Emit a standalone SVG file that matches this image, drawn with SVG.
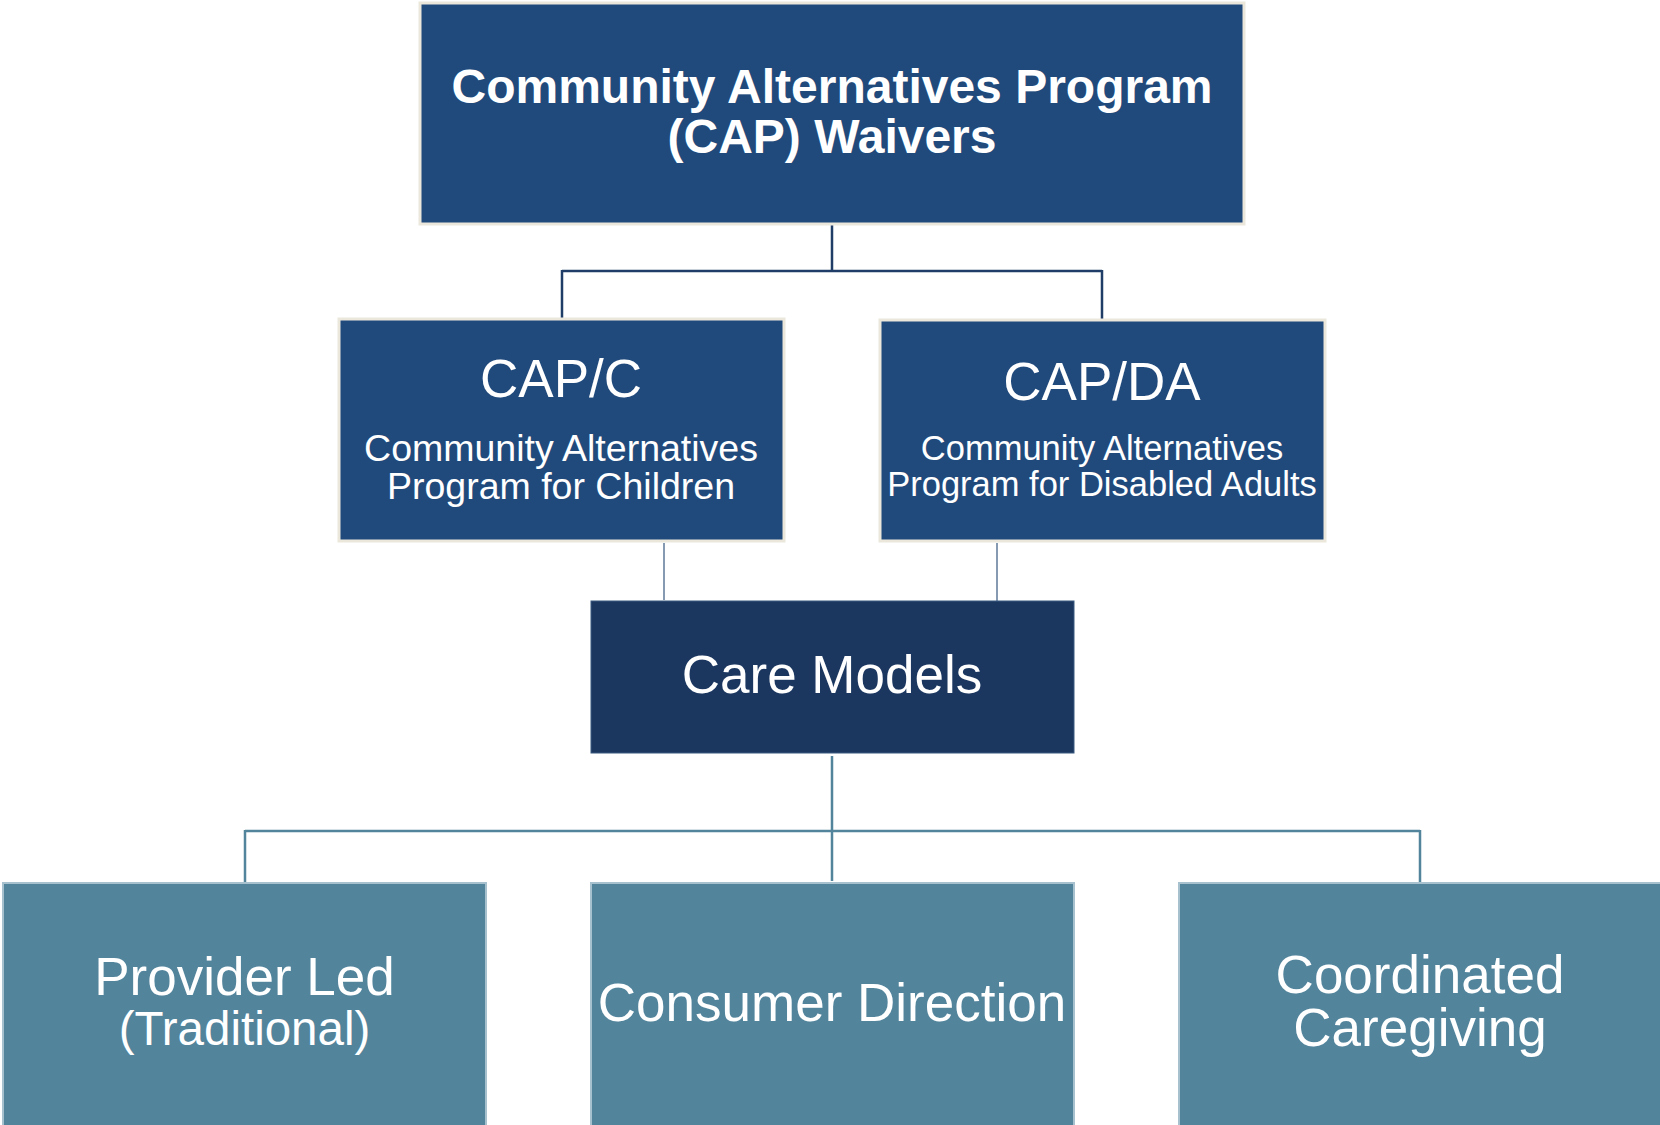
<svg xmlns="http://www.w3.org/2000/svg" width="1660" height="1125" viewBox="0 0 1660 1125">
  <style>
    .txt { font-family: "Liberation Sans", Arial, sans-serif; fill: #ffffff; text-anchor: middle; }
    .navy { fill: #214a7c; stroke: #ebe7db; stroke-width: 3; }
    .dark { fill: #1b3760; stroke: #3b5a80; stroke-width: 1; }
    .teal { fill: #52849c; stroke: #a7c1cf; stroke-width: 2; }
    .c-top { stroke: #1f3d66; stroke-width: 2.5; fill: none; }
    .c-mid { stroke: #5f7b99; stroke-width: 1.5; fill: none; }
    .c-bot { stroke: #52849c; stroke-width: 2.5; fill: none; }
  </style>
  <rect width="1660" height="1125" fill="#ffffff"/>

  <g id="connectors">
    <path class="c-top" d="M832 225 V271 M562 271 H1102 M562 270 V318 M1102 270 V319"/>
    <path class="c-mid" d="M664 543 V600 M997 543 V601"/>
    <path class="c-bot" d="M832 756 V881 M245 831 H1420 M245 830 V882 M1420 830 V882"/>
  </g>

  <g id="cap-waivers">
    <rect class="navy" x="420" y="3" width="824" height="221"/>
    <text class="txt" x="832" y="103" font-size="48" font-weight="bold">Community Alternatives Program</text>
    <text class="txt" x="832" y="153" font-size="48" font-weight="bold">(CAP) Waivers</text>
  </g>

  <g id="cap-c">
    <rect class="navy" x="339" y="319" width="445" height="222"/>
    <text class="txt" x="561" y="397" font-size="53">CAP/C</text>
    <text class="txt" x="561" y="461" font-size="37.5">Community Alternatives</text>
    <text class="txt" x="561" y="499" font-size="37.5">Program for Children</text>
  </g>

  <g id="cap-da">
    <rect class="navy" x="880" y="320" width="445" height="221"/>
    <text class="txt" x="1102" y="400" font-size="53">CAP/DA</text>
    <text class="txt" x="1102" y="460" font-size="34.5">Community Alternatives</text>
    <text class="txt" x="1102" y="496" font-size="34.5">Program for Disabled Adults</text>
  </g>

  <g id="care-models">
    <rect class="dark" x="591" y="601" width="483" height="152"/>
    <text class="txt" x="832" y="693" font-size="53">Care Models</text>
  </g>

  <g id="provider-led">
    <rect class="teal" x="3" y="883" width="483" height="245"/>
    <text class="txt" x="244.5" y="995" font-size="53">Provider Led</text>
    <text class="txt" x="244.5" y="1045" font-size="47.5">(Traditional)</text>
  </g>

  <g id="consumer-direction">
    <rect class="teal" x="591" y="883" width="483" height="245"/>
    <text class="txt" x="832" y="1021" font-size="53">Consumer Direction</text>
  </g>

  <g id="coordinated-caregiving">
    <rect class="teal" x="1179" y="883" width="484" height="245"/>
    <text class="txt" x="1420" y="993" font-size="53">Coordinated</text>
    <text class="txt" x="1420" y="1046" font-size="53">Caregiving</text>
  </g>
</svg>
